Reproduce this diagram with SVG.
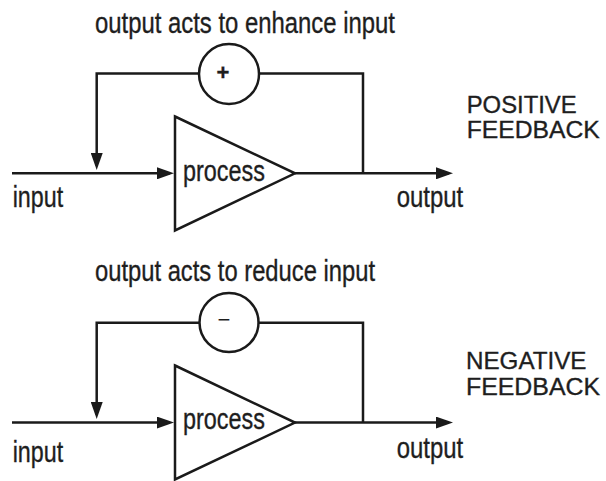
<svg xmlns="http://www.w3.org/2000/svg" width="606" height="481" viewBox="0 0 606 481">
<style>
.ln{fill:none;stroke:#1a1a1a;stroke-width:2.5}
.shape{fill:#ffffff;stroke:#1a1a1a;stroke-width:2.5}
.t{font-family:"Liberation Sans",Arial,sans-serif;fill:#1e1e1e;stroke:#1e1e1e;stroke-width:0.35}
.lbl{font-size:30px}
.cap{font-size:24px}
.sym{font-size:22px;font-weight:bold}
.sym2{font-size:22px;stroke-width:0}
</style>
<defs>
<marker id="arr" viewBox="0 0 17 12" refX="13" refY="6" markerWidth="17" markerHeight="12" markerUnits="userSpaceOnUse" orient="auto">
<path d="M0,0 L17,6 L0,12 Z" fill="#1a1a1a"/>
</marker>
</defs>
<rect width="606" height="481" fill="#ffffff"/>

<g id="connectors">
<!-- positive section -->
<path class="ln" d="M12,173.3 H170" marker-end="url(#arr)"/>
<path class="ln" d="M295,173.3 H449" marker-end="url(#arr)"/>
<path class="ln" d="M363,173.3 V73.5 H259"/>
<path class="ln" d="M199,73.5 H96.7 V166" marker-end="url(#arr)"/>
<!-- negative section -->
<path class="ln" d="M12,422.6 H170" marker-end="url(#arr)"/>
<path class="ln" d="M295,422.6 H449" marker-end="url(#arr)"/>
<path class="ln" d="M363,422.6 V322.8 H259"/>
<path class="ln" d="M199,322.8 H96.7 V415" marker-end="url(#arr)"/>
</g>

<g id="pos-title"><text class="t lbl" x="95" y="33.3" textLength="300" lengthAdjust="spacingAndGlyphs">output acts to enhance input</text></g>
<g id="pos-sum">
<circle class="shape" cx="229" cy="74" r="30"/>
<text class="t sym" x="223" y="80" text-anchor="middle">+</text>
</g>
<g id="pos-process">
<path class="shape" d="M175,116.5 L295,173.3 L175,230.5 Z"/>
<text class="t lbl" x="183" y="181" textLength="82" lengthAdjust="spacingAndGlyphs">process</text>
</g>
<g id="pos-input"><text class="t lbl" x="12.7" y="206.7" textLength="50.5" lengthAdjust="spacingAndGlyphs">input</text></g>
<g id="pos-output"><text class="t lbl" x="396.7" y="206.7" textLength="66.5" lengthAdjust="spacingAndGlyphs">output</text></g>
<g id="pos-label">
<text class="t cap" x="466.7" y="113.3" textLength="110" lengthAdjust="spacingAndGlyphs">POSITIVE</text>
<text class="t cap" x="466.7" y="138.3" textLength="133" lengthAdjust="spacingAndGlyphs">FEEDBACK</text>
</g>

<g id="neg-title"><text class="t lbl" x="95" y="281" textLength="280" lengthAdjust="spacingAndGlyphs">output acts to reduce input</text></g>
<g id="neg-sum">
<circle class="shape" cx="229" cy="322.5" r="29.5"/>
<text class="t sym2" x="224" y="327" text-anchor="middle">−</text>
</g>
<g id="neg-process">
<path class="shape" d="M175,365.5 L295,422.6 L175,479.5 Z"/>
<text class="t lbl" x="183" y="429" textLength="82" lengthAdjust="spacingAndGlyphs">process</text>
</g>
<g id="neg-input"><text class="t lbl" x="12.7" y="461.5" textLength="50.5" lengthAdjust="spacingAndGlyphs">input</text></g>
<g id="neg-output"><text class="t lbl" x="396.7" y="458.3" textLength="66.5" lengthAdjust="spacingAndGlyphs">output</text></g>
<g id="neg-label">
<text class="t cap" x="466" y="369.3" textLength="120.5" lengthAdjust="spacingAndGlyphs">NEGATIVE</text>
<text class="t cap" x="466" y="395" textLength="134" lengthAdjust="spacingAndGlyphs">FEEDBACK</text>
</g>
</svg>
